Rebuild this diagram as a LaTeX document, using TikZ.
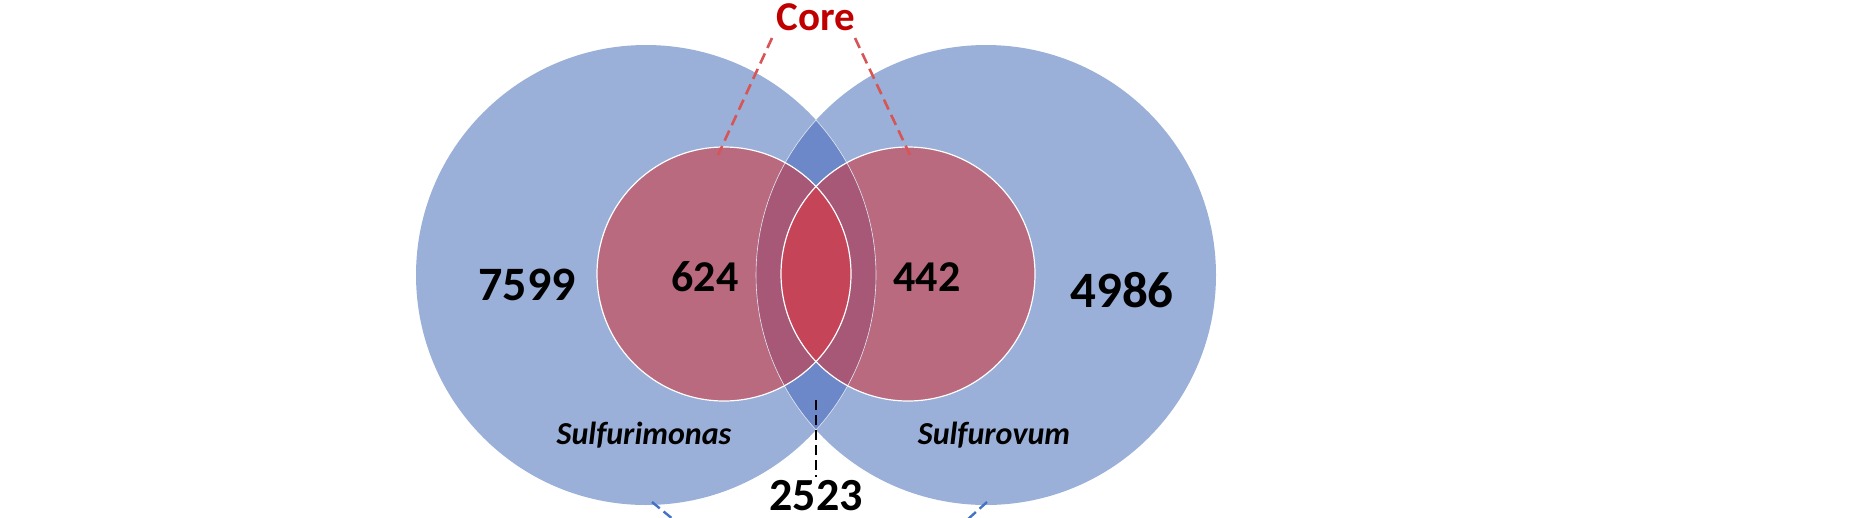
\documentclass[tikz,border=0pt]{standalone}
\usepackage{fontspec}
\setmainfont{Carlito}
\definecolor{bl}{RGB}{154,176,217}
\definecolor{bd}{RGB}{108,136,200}
\definecolor{r1}{RGB}{186,106,126}
\definecolor{r2}{RGB}{166,88,118}
\definecolor{r3}{RGB}{197,68,88}
\definecolor{coreRed}{RGB}{192,0,0}
\definecolor{dashred}{RGB}{215,85,85}
\definecolor{dashblue}{RGB}{68,114,196}
\tikzset{num/.style={font=\bfseries\fontsize{48}{54}\selectfont},
 sp/.style={font=\bfseries\itshape\fontsize{32}{38}\selectfont},
 reddash/.style={draw=dashred, line width=2.6pt, dash pattern=on 11pt off 6pt},
 blkdash/.style={draw=black, line width=2.4pt, dash pattern=on 10pt off 5pt},
 bluedash/.style={draw=dashblue, line width=2.4pt, dash pattern=on 10pt off 5pt}}
\begin{document}
\begin{tikzpicture}[x=1pt,y=1pt]
\useasboundingbox (0,0) rectangle (1855,-517);
\def\BL{(646,-275) circle (230)}
\def\BR{(986,-275) circle (230)}
\def\SL{(724,-274) circle (127)}
\def\SR{(908,-274) circle (127)}
\fill[bl] \BL; \fill[bl] \BR;
\begin{scope}\clip \BL; \fill[bd] \BR; \end{scope}
\fill[r1] \SL; \fill[r1] \SR;
\begin{scope}\clip \SL; \fill[r2] \BR; \end{scope}
\begin{scope}\clip \SR; \fill[r2] \BL; \end{scope}
\begin{scope}\clip \SL; \fill[r3] \SR; \end{scope}
\begin{scope}\clip \BL; \draw[white!80!bd, line width=0.6pt] \BR; \end{scope}
\begin{scope}\clip \BR; \draw[white!80!bd, line width=0.6pt] \BL; \end{scope}
\draw[white, line width=1.2pt] \SL; \draw[white, line width=1.2pt] \SR;
\node[font=\bfseries\fontsize{41}{46}\selectfont, text=coreRed] (core) at (816,-17) {Core};
\coordinate (cl) at (772,-38); \coordinate (cr) at (855,-38);
\coordinate (sl) at (718,-155); \coordinate (sr) at (910,-155);
\draw[reddash] (cl) -- (sl); \draw[reddash] (cr) -- (sr);
\node[num] (a) at (527,-285) {7599};
\node[num, font=\bfseries\fontsize{44}{50}\selectfont] (b) at (705,-277) {624};
\node[num, font=\bfseries\fontsize{44}{50}\selectfont] (c) at (927,-277) {442};
\node[num, font=\bfseries\fontsize{51}{56}\selectfont] (d) at (1122,-290) {4986};
\node[sp] (e) at (644,-435) {Sulfurimonas};
\node[sp] (f) at (994,-435) {Sulfurovum};
\node[num, font=\bfseries\fontsize{46}{52}\selectfont] (g) at (816,-496) {2523};
\coordinate (lt) at (816,-400);
\draw[blkdash] (lt) -- (g.north);
\coordinate (b1) at (652,-502); \coordinate (b2) at (674,-520);
\coordinate (b3) at (987,-502); \coordinate (b4) at (967,-520);
\draw[bluedash] (b1) -- (b2); \draw[bluedash] (b3) -- (b4);
\end{tikzpicture}
\end{document}
